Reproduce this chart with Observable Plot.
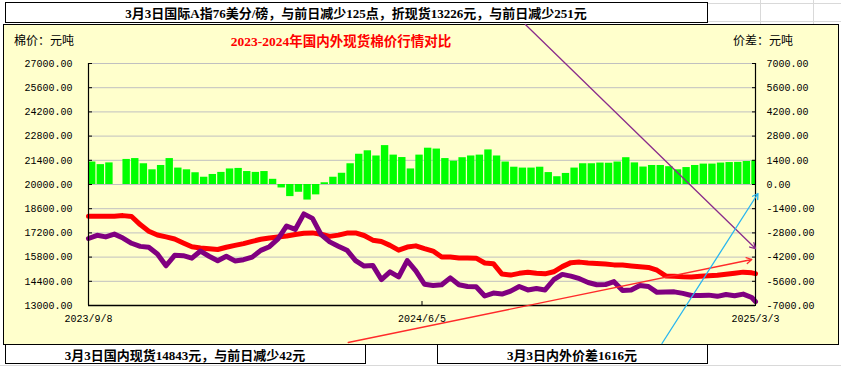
<!DOCTYPE html>
<html><head><meta charset="utf-8">
<script src="https://cdn.jsdelivr.net/npm/d3@7"></script>
<script src="https://cdn.jsdelivr.net/npm/@observablehq/plot@0.6"></script>
<style>
body{margin:0;background:#fff;}
#wrap{position:relative;width:841px;height:369px;overflow:hidden;font-family:"Liberation Serif","Noto Sans CJK SC",serif;}
.box{position:absolute;border:1px solid #000;box-sizing:border-box;background:#fff;}
.t{position:absolute;white-space:nowrap;line-height:1;}
.b{font-weight:bold;font-size:13px;color:#000;transform:translateX(-50%);}
.g{position:absolute;background:#d9d9d9;}
#chart{position:absolute;left:0;top:0;pointer-events:none;}
</style></head><body>
<div id="wrap">
  <div class="g" style="left:760px;top:0;width:1px;height:24px;"></div>
  <div class="g" style="left:813px;top:0;width:1px;height:24px;"></div>
  <div class="g" style="left:707px;top:3px;width:134px;height:1px;"></div>
  <div class="g" style="left:707px;top:21px;width:134px;height:1px;"></div>
  <div class="g" style="left:0;top:365px;width:841px;height:1px;"></div>
  <div class="box" style="left:5px;top:2px;width:703px;height:21px;"></div>
  <div class="box" style="left:3px;top:24px;width:836px;height:321px;background:#FFFFCC;"></div>
  <div class="box" style="left:5px;top:344px;width:361px;height:20px;"></div>
  <div class="box" style="left:437px;top:344px;width:271px;height:20px;"></div>
  <div class="t b" style="left:356px;top:7px;">3月3日国际A指76美分/磅，与前日减少125点，折现货13226元，与前日减少251元</div>
  <div class="t" style="left:14px;top:34px;font-family:'Noto Sans CJK SC';font-size:12px;">棉价：元吨</div>
  <div class="t" style="left:733px;top:34px;font-family:'Noto Sans CJK SC';font-size:12px;">价差：元吨</div>
  <div class="t b" style="left:341px;top:35px;color:#FF0000;font-size:13.5px;">2023-2024年国内外现货棉价行情对比</div>
  <div class="t b" style="left:185px;top:349px;">3月3日国内现货14843元，与前日减少42元</div>
  <div class="t b" style="left:572px;top:349px;">3月3日内外价差1616元</div>
  <div id="chart"></div>
</div>
<script>
const dates = ["2023-09-08","2023-09-15","2023-09-22","2023-09-29","2023-10-06","2023-10-13","2023-10-20","2023-10-27","2023-11-03","2023-11-10",
"2023-11-17","2023-11-24","2023-12-01","2023-12-08","2023-12-15","2023-12-22","2023-12-29","2024-01-05","2024-01-12","2024-01-19",
"2024-01-26","2024-02-02","2024-02-09","2024-02-16","2024-02-23","2024-03-01","2024-03-08","2024-03-15","2024-03-22","2024-03-29",
"2024-04-05","2024-04-12","2024-04-19","2024-04-26","2024-05-03","2024-05-10","2024-05-17","2024-05-24","2024-05-31","2024-06-07",
"2024-06-14","2024-06-21","2024-06-28","2024-07-05","2024-07-12","2024-07-19","2024-07-26","2024-08-02","2024-08-09","2024-08-16",
"2024-08-23","2024-08-30","2024-09-06","2024-09-13","2024-09-20","2024-09-27","2024-10-04","2024-10-11","2024-10-18","2024-10-25",
"2024-11-01","2024-11-08","2024-11-15","2024-11-22","2024-11-29","2024-12-06","2024-12-13","2024-12-20","2024-12-27","2025-01-03",
"2025-01-10","2025-01-17","2025-01-24","2025-01-31","2025-02-07","2025-02-14","2025-02-21","2025-02-28","2025-03-03"];
// 国内现货 (red)
const domestic = [18170,18170,18160,18170,18200,18150,17680,17300,17080,16970,
16850,16620,16400,16330,16280,16240,16370,16480,16580,16710,
16830,16910,16960,17020,17110,17180,17200,17120,17000,17070,
17190,17200,17050,16780,16700,16480,16200,16380,16450,16290,
16150,15805,15805,15750,15750,15740,15460,15420,14820,14760,
14860,14920,14860,14830,14950,15250,15480,15510,15460,15430,
15400,15350,15340,15290,15240,15200,15040,14710,14690,14660,
14650,14690,14720,14750,14810,14870,14930,14890,14843];
// 国际折现货 (purple)
const international = [16875,17060,16970,17130,16900,16600,16420,16370,15980,15300,
15900,15880,15740,16150,15850,15590,15850,15580,15650,15800,
16190,16400,16850,17600,17400,18300,18040,17100,16680,16430,
16200,15600,15280,15320,14500,14950,14650,15600,15000,14230,
14160,14200,14600,14200,14100,14080,13550,13720,13660,13830,
14100,13900,13980,13900,14490,14800,14700,14550,14330,14200,
14210,14380,13870,13900,14160,14100,13760,13780,13790,13700,
13580,13580,13600,13530,13640,13560,13660,13460,13226];
// 内外价差 (green bars, right axis)
const spread = [1300,1150,1250,null,1450,1500,1200,850,1100,1500,
950,850,680,420,580,700,900,930,750,700,
750,300,-200,-700,-450,-900,-600,100,420,650,
1200,1750,1950,1650,2250,1700,1560,900,1700,2100,
2050,1500,1350,1550,1650,1700,2000,1650,1300,1000,
950,950,1000,690,450,640,950,1200,1200,1240,
1230,1300,1550,1250,1010,1100,1100,1030,850,980,
1100,1180,1180,1240,1270,1280,1330,1380,1616];
const leftTicks = [13000,14400,15800,17200,18600,20000,21400,22800,24200,25600,27000];
const rightZero = 20000;
const xTickDates = ["2023-09-08","2024-06-05","2025-03-03"];
// annotation arrows (data coordinates)
const arrowStart = ["2024-08-28","2024-04-06","2024-12-17"];
const arrowStartVal = [29256,10860,10802];
const arrowEnd = ["2025-03-03","2025-02-28","2025-03-05"];
const arrowEndVal = [16297,15661,19479];
const arrowColor = ["#8B2C8B","#FF2A2A","#29B6F0"];

const parse = s => new Date(s + "T00:00:00Z");
const DAY = 864e5;
const rows = dates.map((d, i) => ({date: parse(d), dom: domestic[i], intl: international[i], spread: spread[i]}));
const bars = rows.filter(r => r.spread != null);
const arrows = arrowStart.map((s, i) => ({x1: parse(s), y1: arrowStartVal[i], x2: parse(arrowEnd[i]), y2: arrowEndVal[i], c: arrowColor[i]}));
const xTicks = xTickDates.map(parse);
const xDomain = [parse("2023-09-08"), parse("2025-03-03")];
const fmtDate = d => `${d.getUTCFullYear()}/${d.getUTCMonth()+1}/${d.getUTCDate()}`;

const chart = Plot.plot({
  width: 841, height: 369,
  marginLeft: 88, marginRight: 86, marginTop: 63, marginBottom: 64,
  style: {background: "transparent", fontFamily: "'Liberation Mono', monospace", fontSize: "10px", color: "#000", overflow: "visible"},
  x: {type: "utc", domain: xDomain},
  y: {domain: [13000, 27000]},
  marks: [
    Plot.gridY(leftTicks, {stroke: "#c0c0c0", strokeOpacity: 1}),
    Plot.rect(bars, {x1: "date", x2: d => new Date(+d.date + 6 * DAY), y1: () => rightZero, y2: d => rightZero + d.spread, fill: "#00FF00", clip: true}),
    Plot.line(rows, {x: "date", y: "dom", stroke: "#FF0000", strokeWidth: 5}),
    Plot.line(rows, {x: "date", y: "intl", stroke: "#800080", strokeWidth: 5}),
    Plot.ruleX(xDomain, {stroke: "#000", strokeWidth: 1.2}),
    Plot.ruleY([13000], {stroke: "#000", strokeWidth: 1.5}),
    Plot.axisY(leftTicks, {anchor: "left", tickSize: 0, tickPadding: 16, tickFormat: d => d.toFixed(2)}),
    Plot.axisY(leftTicks, {anchor: "left", tickSize: 4, dx: 4, tickFormat: () => ""}),
    Plot.axisY(leftTicks, {anchor: "right", tickSize: 0, tickPadding: 11, tickFormat: d => (d - rightZero).toFixed(2)}),
    Plot.axisY(leftTicks, {anchor: "right", tickSize: 4, dx: -4, tickFormat: () => ""}),
    Plot.axisX(xTicks, {anchor: "bottom", tickSize: 0, tickPadding: 9, tickFormat: fmtDate}),
    Plot.axisX(xTicks, {anchor: "bottom", tickSize: 4, dy: -4, tickFormat: () => ""}),
    Plot.arrow(arrows, {x1: "x1", y1: "y1", x2: "x2", y2: "y2", stroke: "c", strokeWidth: 1.3, headLength: 7})
  ]
});
document.getElementById("chart").appendChild(chart);
</script>
</body></html>
